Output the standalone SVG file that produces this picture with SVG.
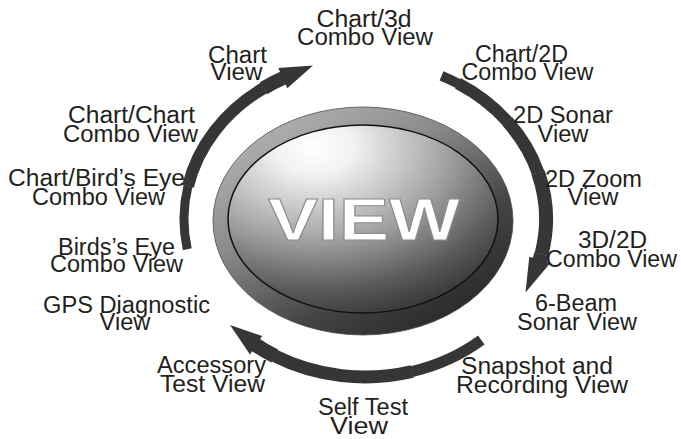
<svg xmlns="http://www.w3.org/2000/svg" width="681" height="439" viewBox="0 0 681 439">
<style>
.lbl{font-family:"Liberation Sans",Arial,sans-serif;font-size:23px;fill:#231f20;text-anchor:middle}
.band{fill:none;stroke:#363636;stroke-linecap:butt}
.head{fill:#363636}
</style>
<defs>
<linearGradient id="ring" x1="0.15" y1="0.05" x2="0.85" y2="0.95">
<stop offset="0" stop-color="#b4b4b4"/>
<stop offset="0.35" stop-color="#8a8a8a"/>
<stop offset="0.7" stop-color="#444"/>
<stop offset="1" stop-color="#262626"/>
</linearGradient>
<radialGradient id="face" cx="0.32" cy="0.12" r="0.95" fx="0.32" fy="0.12">
<stop offset="0" stop-color="#ffffff"/>
<stop offset="0.15" stop-color="#f2f2f2"/>
<stop offset="0.5" stop-color="#a6a6a6"/>
<stop offset="0.8" stop-color="#5a5a5a"/>
<stop offset="1" stop-color="#333"/>
</radialGradient>
</defs>

<g id="view-button">
<ellipse cx="363" cy="221" rx="150" ry="114" fill="url(#ring)" stroke="#4a4a4a" stroke-width="0.8"/>
<ellipse cx="363" cy="219" rx="135" ry="94" fill="url(#face)" stroke="#111" stroke-width="1.5"/>
<text x="364" y="240" font-family="'Liberation Sans',Arial,sans-serif" font-weight="bold" font-size="60" fill="#fff" stroke="#8c8c8c" stroke-width="1" text-anchor="middle" textLength="192" lengthAdjust="spacingAndGlyphs">VIEW</text>
</g>

<g id="connectors">
<path class="band" stroke-width="9" d="M187.3,249.2 A181,158 0 0 1 187.96,186.15"/>
<path class="band" stroke-width="12" d="M187.96,186.4 A181,158 0 0 1 263.8,88.0"/>
<path class="band" stroke-width="14" d="M263.5,88.2 A181,158 0 0 1 284.6,77.4"/>
<polygon class="head" points="287.3,88.3 278.3,68.1 313,65.5"/>
<path class="band" stroke-width="10" d="M441.5,75.8 A181,158 0 0 1 458.2,83.6"/>
<path class="band" stroke-width="12" d="M457.9,83.4 A181,158 0 0 1 507.6,121.7"/>
<path class="band" stroke-width="13" d="M507.4,121.5 A181,158 0 0 1 538.1,172.8"/>
<path class="band" stroke-width="14" d="M538.0,172.5 A181,158 0 0 1 541.4,254.5"/>
<path class="band" stroke-width="15" d="M541.5,254.2 A181,158 0 0 1 539.3,262.5"/>
<polygon class="head" points="550.3,263.1 529.3,256.7 525.5,292.5"/>
<path class="band" stroke-width="11" d="M481.3,340.0 A181,158 0 0 1 411.8,371.6"/>
<path class="band" stroke-width="13" d="M412.1,371.5 A181,158 0 0 1 274.5,355.8"/>
<path class="band" stroke-width="14.5" d="M274.8,356.0 A181,158 0 0 1 254.3,344.0"/>
<polygon class="head" points="250.0,354.4 262.2,336.0 230,325"/>
</g>

<g id="chart-3d"><text class="lbl"><tspan x="364" y="26.5" textLength="95" lengthAdjust="spacingAndGlyphs">Chart/3d</tspan><tspan x="365" y="44.5" textLength="136" lengthAdjust="spacingAndGlyphs">Combo View</tspan></text></g>
<g id="chart-view"><text class="lbl"><tspan x="237.5" y="63" textLength="59" lengthAdjust="spacingAndGlyphs">Chart</tspan><tspan x="236.5" y="80" textLength="52" lengthAdjust="spacingAndGlyphs">View</tspan></text></g>
<g id="chart-2d"><text class="lbl"><tspan x="521.5" y="62" textLength="93" lengthAdjust="spacingAndGlyphs">Chart/2D</tspan><tspan x="527.5" y="80" textLength="132" lengthAdjust="spacingAndGlyphs">Combo View</tspan></text></g>
<g id="sonar-2d"><text class="lbl"><tspan x="563" y="123" textLength="100" lengthAdjust="spacingAndGlyphs">2D Sonar</tspan><tspan x="563" y="142" textLength="51" lengthAdjust="spacingAndGlyphs">View</tspan></text></g>
<g id="zoom-2d"><text class="lbl"><tspan x="593.5" y="187" textLength="97" lengthAdjust="spacingAndGlyphs">2D Zoom</tspan><tspan x="593" y="205" textLength="51" lengthAdjust="spacingAndGlyphs">View</tspan></text></g>
<g id="combo-3d2d"><text class="lbl"><tspan x="612.5" y="248" textLength="69" lengthAdjust="spacingAndGlyphs">3D/2D</tspan><tspan x="611.5" y="267" textLength="131" lengthAdjust="spacingAndGlyphs">Combo View</tspan></text></g>
<g id="six-beam"><text class="lbl"><tspan x="576" y="311" textLength="82" lengthAdjust="spacingAndGlyphs">6-Beam</tspan><tspan x="577" y="330" textLength="120" lengthAdjust="spacingAndGlyphs">Sonar View</tspan></text></g>
<g id="snapshot"><text class="lbl"><tspan x="537" y="374" textLength="152" lengthAdjust="spacingAndGlyphs">Snapshot and</tspan><tspan x="542" y="393" textLength="172" lengthAdjust="spacingAndGlyphs">Recording View</tspan></text></g>
<g id="self-test"><text class="lbl"><tspan x="363" y="415" textLength="90" lengthAdjust="spacingAndGlyphs">Self Test</tspan><tspan x="359" y="434" textLength="58" lengthAdjust="spacingAndGlyphs">View</tspan></text></g>
<g id="accessory"><text class="lbl"><tspan x="211.5" y="373" textLength="109" lengthAdjust="spacingAndGlyphs">Accessory</tspan><tspan x="212.5" y="392" textLength="105" lengthAdjust="spacingAndGlyphs">Test View</tspan></text></g>
<g id="gps"><text class="lbl"><tspan x="126.5" y="313" textLength="167" lengthAdjust="spacingAndGlyphs">GPS Diagnostic</tspan><tspan x="125" y="330" textLength="51" lengthAdjust="spacingAndGlyphs">View</tspan></text></g>
<g id="birds-eye"><text class="lbl"><tspan x="116.5" y="255" textLength="117" lengthAdjust="spacingAndGlyphs">Birds’s Eye</tspan><tspan x="116.5" y="272" textLength="133" lengthAdjust="spacingAndGlyphs">Combo View</tspan></text></g>
<g id="chart-birds-eye"><text class="lbl"><tspan x="96.5" y="186" textLength="177" lengthAdjust="spacingAndGlyphs">Chart/Bird’s Eye</tspan><tspan x="98.5" y="205" textLength="133" lengthAdjust="spacingAndGlyphs">Combo View</tspan></text></g>
<g id="chart-chart"><text class="lbl"><tspan x="131.5" y="123" textLength="127" lengthAdjust="spacingAndGlyphs">Chart/Chart</tspan><tspan x="130.5" y="142" textLength="135" lengthAdjust="spacingAndGlyphs">Combo View</tspan></text></g>
</svg>
